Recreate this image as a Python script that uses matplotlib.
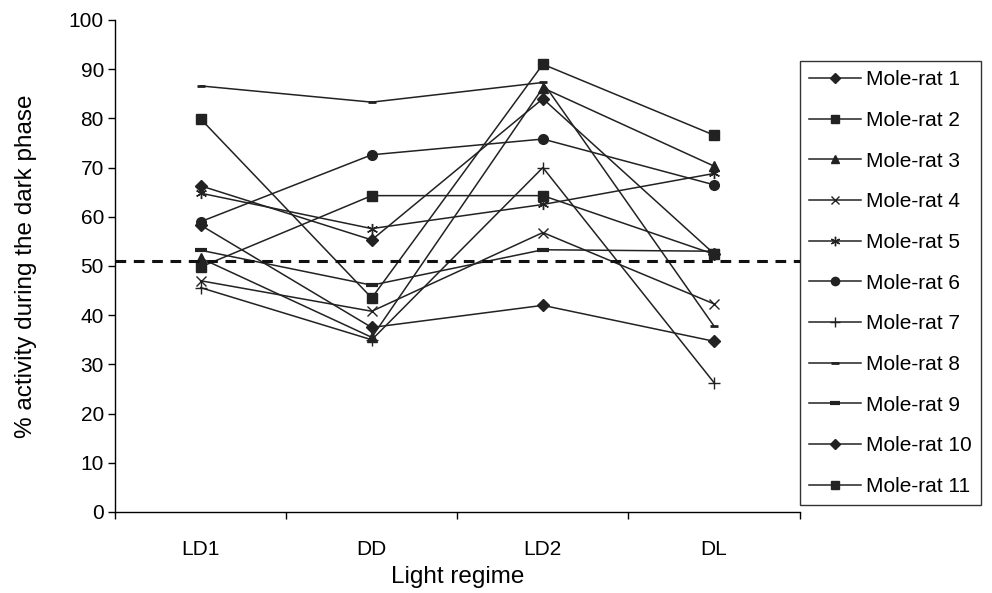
import matplotlib
matplotlib.use("Agg")
import matplotlib.pyplot as plt
from matplotlib.ticker import FixedLocator

plt.rcParams['font.family'] = ['Liberation Sans', 'DejaVu Sans']

regimes = ["LD1", "DD", "LD2", "DL"]
rat_names = [f"Mole-rat {i}" for i in range(1, 12)]

rat1 = [58.3, 37.5, 42.0, 34.7]
rat2 = [79.9, 43.5, 91.0, 76.6]
rat3 = [51.6, 35.5, 86.2, 70.3]
rat4 = [47.0, 40.8, 56.8, 42.3]
rat5 = [64.8, 57.6, 62.5, 68.8]
rat6 = [59.0, 72.6, 75.8, 66.5]
rat7 = [45.6, 35.0, 70.0, 26.3]
rat8 = [86.6, 83.3, 87.3, 37.8]
rat9 = [53.2, 46.1, 53.3, 53.0]
rat10 = [66.3, 55.3, 84.0, 52.5]
rat11 = [49.8, 64.3, 64.3, 52.4]
threshold = 51.0

series = [rat1, rat2, rat3, rat4, rat5, rat6, rat7, rat8, rat9, rat10, rat11]

styles = [
    dict(marker='D', markersize=6),
    dict(marker='s', markersize=7),
    dict(marker='^', markersize=7),
    dict(marker='x', markersize=7, markeredgewidth=1.0),
    dict(marker=(6, 2, 0), markersize=8, markeredgewidth=1.0),
    dict(marker='o', markersize=7),
    dict(marker='+', markersize=9, markeredgewidth=1.0),
    dict(marker='_', markersize=6, markeredgewidth=2.0),
    dict(marker='_', markersize=9, markeredgewidth=3.0),
    dict(marker='D', markersize=6),
    dict(marker='s', markersize=7),
]

fig = plt.figure(figsize=(9.92, 5.93), dpi=100)
ax = fig.add_axes([0.116, 0.1366, 0.690, 0.8297])

x = list(range(len(regimes)))
color = '#222222'
for vals, name, st in zip(series, rat_names, styles):
    ax.plot(x, vals, color=color, lw=1.1, label=name,
            markerfacecolor=color, markeredgecolor=color, **st)

ax.axhline(threshold, color='#111111', lw=2.2, dashes=(3.5, 2.5), zorder=5)

ax.set_xlim(-0.5, 3.5)
ax.set_ylim(0, 100)
ax.set_yticks(range(0, 101, 10))
ax.set_xticks(x)
ax.set_xticklabels(regimes)
ax.xaxis.set_minor_locator(FixedLocator([-0.5, 0.5, 1.5, 2.5, 3.5]))
ax.tick_params(axis='x', which='major', length=0, labelsize=15, pad=20)
ax.tick_params(axis='x', which='minor', length=5, direction='out', width=1)
ax.tick_params(axis='y', length=5, direction='out', width=1, labelsize=15, pad=3)
for s in ['top', 'right']:
    ax.spines[s].set_visible(False)
for s in ['left', 'bottom']:
    ax.spines[s].set_linewidth(1)

ax.set_xlabel("Light regime", fontsize=17.5, labelpad=5)
ax.set_ylabel("% activity during the dark phase", fontsize=17.5, labelpad=23)

leg = fig.legend(loc='upper left', bbox_to_anchor=(0.806, 0.897), fontsize=15,
                 frameon=True, fancybox=False, labelspacing=1.04,
                 handlelength=2.5, handletextpad=0.25, borderpad=0.45,
                 borderaxespad=0, markerscale=0.85)
leg.get_frame().set_edgecolor('black')
leg.get_frame().set_linewidth(1.0)

fig.savefig("out.png", dpi=100)
